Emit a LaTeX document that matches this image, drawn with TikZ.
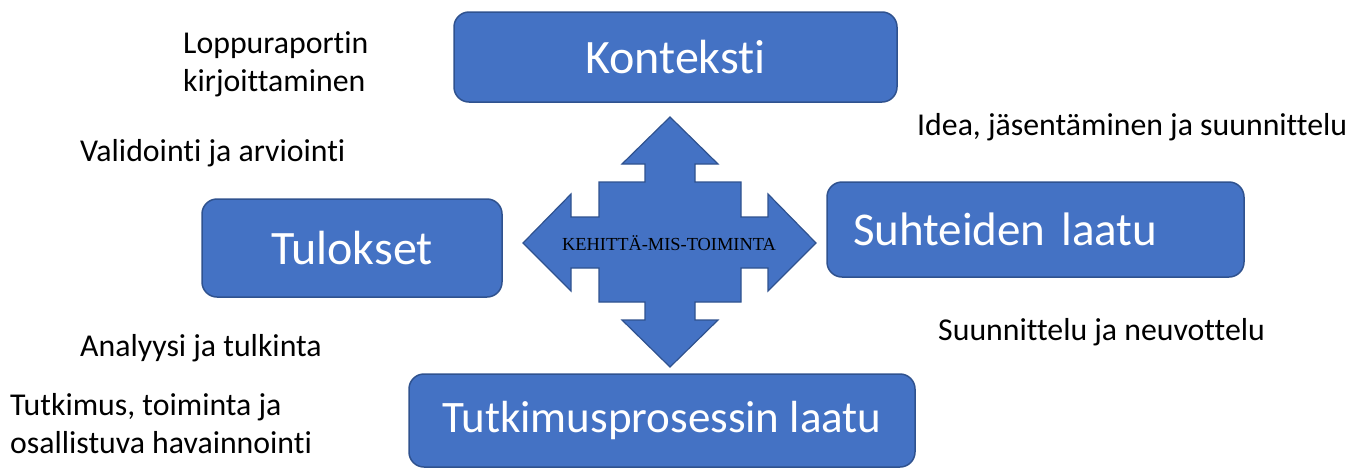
\documentclass[tikz,border=0pt]{standalone}
\usepackage{fontspec}
\setmainfont{Carlito}[Ligatures={NoCommon}]
\newfontfamily\timesfont{Liberation Serif}
\definecolor{boxblue}{HTML}{4472C4}
\definecolor{boxline}{HTML}{2F528F}
\tikzset{
	bluebox/.style={draw=boxline,fill=boxblue,line width=1.5pt,rounded corners=15pt,text=white,font=\fontsize{48}{56}\selectfont,inner sep=0pt},
	note/.style={anchor=west,align=left,inner sep=0pt,font=\fontsize{31.8}{38}\selectfont}
}
\begin{document}
\begin{tikzpicture}[x=1pt,y=-1pt]
		\useasboundingbox (0,0) rectangle (1362,469);

		% laatikot
		\draw (675.5,57) node (kon)[bluebox,minimum width=443pt,minimum height=90pt]{Konteksti};
		\draw (352,248) node (tul)[bluebox,minimum width=300pt,minimum height=98pt]{Tulokset};
		\draw (1035.5,229.5) node (suh)[bluebox,font=\fontsize{47}{55}\selectfont,text width=365pt,inner xsep=26pt,minimum height=95pt,align=left]{Suhteiden laatu};
		\draw (662,420.5) node (tut)[bluebox,font=\fontsize{45}{53}\selectfont,minimum width=506pt,minimum height=93pt]{Tutkimusprosessin laatu};

		% keskinuoli
		\draw[draw=boxline,fill=boxblue,line width=1.2pt] (670,117)--(718,164)--(695,164)--(695,182)--(741,182)--(741,217)--(768,217)--(768,194)--(816,243)--(768,291)--(768,268)--(741,268)--(741,302)--(695,302)--(695,320)--(718,320)--(670,367)--(622,320)--(645,320)--(645,302)--(599,302)--(599,268)--(571,268)--(571,291)--(523,243)--(571,194)--(571,217)--(599,217)--(599,182)--(645,182)--(645,164)--(622,164)--cycle;
		\draw (669,243) node (keh)[font=\timesfont\fontsize{18.4}{22}\selectfont,inner sep=0pt]{KEHITTÄ-MIS-TOIMINTA};

		% tekstit
		\draw (183,64) node (lop)[note]{Loppuraportin\\kirjoittaminen};
		\draw (80,153) node (val)[note]{Validointi ja arviointi};
		\draw (917,127) node (ide)[note]{Idea, jäsentäminen ja suunnittelu};
		\draw (938,332) node (neu)[note]{Suunnittelu ja neuvottelu};
		\draw (80,348) node (ana)[note]{Analyysi ja tulkinta};
		\draw (10,424) node (osa)[note]{Tutkimus, toiminta ja\\osallistuva havainnointi};
	\end{tikzpicture}
\end{document}
